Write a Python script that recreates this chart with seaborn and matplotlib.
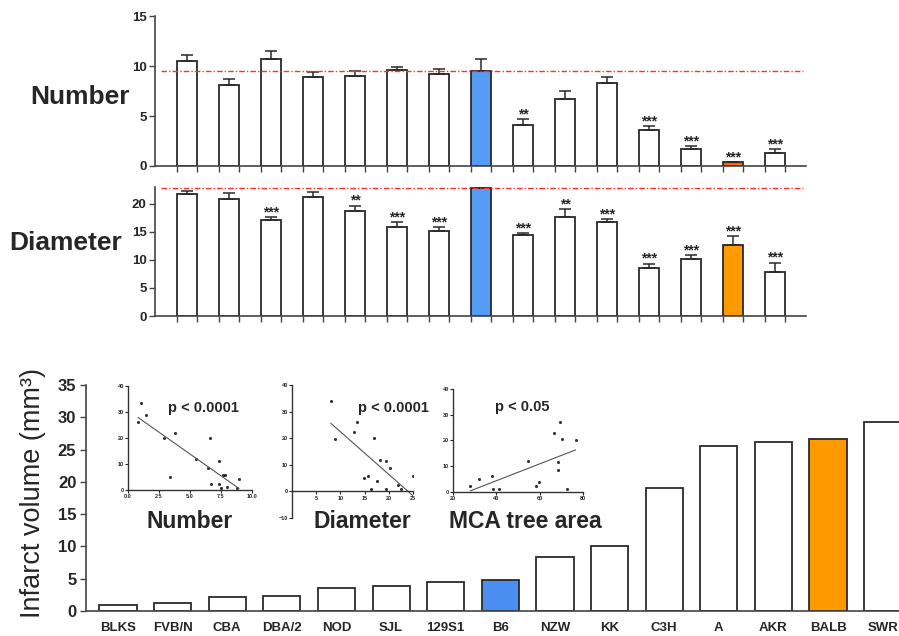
import numpy as np
import pandas as pd
import matplotlib
matplotlib.use('Agg')
import matplotlib.pyplot as plt
import seaborn as sns

sns.set_style('ticks')
plt.rcParams['font.family'] = ['Liberation Sans', 'DejaVu Sans']

### data
strains = ['BLKS', 'FVB/N', 'CBA', 'DBA/2', 'NOD', 'SJL', '129S1', 'B6',
           'NZW', 'KK', 'C3H', 'A', 'AKR', 'BALB', 'SWR']

# collateral number (mean, upper error)
number_mean = [10.5, 8.1, 10.7, 8.9, 9.0, 9.6, 9.2, 9.5, 4.1, 6.7, 8.3, 3.6, 1.7, 0.4, 1.3]
number_err = [0.6, 0.6, 0.8, 0.5, 0.5, 0.3, 0.5, 1.2, 0.6, 0.8, 0.6, 0.4, 0.3, 0.0, 0.4]
number_stars = ['', '', '', '', '', '', '', '', '**', '', '', '***', '***', '***', '***']

# collateral diameter (mean, upper error)
diam_mean = [21.7, 20.9, 17.1, 21.3, 18.7, 15.8, 15.2, 22.8, 14.4, 17.6, 16.8, 8.6, 10.1, 12.6, 7.9]
diam_err = [0.6, 1.0, 0.5, 0.8, 1.0, 0.9, 0.6, 0.2, 0.4, 1.5, 0.5, 0.7, 0.8, 1.6, 1.6]
diam_stars = ['', '', '***', '', '**', '***', '***', '', '***', '**', '***', '***', '***', '***', '***']

# infarct volume
infarct = [1.0, 1.2, 2.1, 2.3, 3.5, 3.9, 4.5, 4.75, 8.4, 10.0, 19.1, 25.6, 26.1, 26.6, 29.3]

# inset scatter data
num_x = [0.81, 1.08, 1.43, 2.89, 3.78, 3.38, 5.49, 6.41, 6.62, 6.68, 7.35, 7.35, 7.65, 7.81, 7.51, 7.97, 8.78, 8.95]
num_y = [26.3, 33.3, 28.8, 19.9, 22.1, 4.9, 11.8, 8.3, 19.9, 2.2, 11.0, 2.2, 5.8, 5.8, 0.6, 1.0, 0.6, 4.1]
dia_x = [8.0, 8.9, 13.4, 12.8, 17.0, 18.2, 19.5, 20.3, 14.9, 15.6, 17.6, 16.4, 19.5, 21.9, 22.6, 25.0]
dia_y = [33.9, 19.8, 26.1, 22.3, 20.2, 11.9, 11.4, 8.7, 4.9, 5.8, 4.0, 0.9, 0.9, 2.4, 0.9, 5.9]
mca_x = [28.0, 31.8, 38.0, 38.5, 41.1, 54.6, 58.2, 59.7, 66.6, 69.2, 70.3, 68.6, 68.6, 72.8, 76.6]
mca_y = [2.2, 5.0, 6.1, 1.0, 1.0, 12.0, 2.2, 3.9, 22.8, 27.1, 20.5, 11.5, 8.7, 1.0, 20.1]

df = pd.DataFrame({'strain': strains, 'number': number_mean, 'diameter': diam_mean,
                   'infarct': infarct})

edge = '#2a2a2a'
spine = '#444444'


def colors(b6, balb):
    c = {s: 'white' for s in strains}
    c['B6'] = b6
    c['BALB'] = balb
    return c


fig = plt.figure(figsize=(8.99, 6.36), dpi=100)


def top_panel(rect, col, err, stars, ylim, yticks, pal):
    ax = fig.add_axes(rect)
    sns.barplot(data=df, x='strain', y=col, hue='strain', palette=pal, legend=False,
                width=0.48, saturation=1, edgecolor=edge, linewidth=1.3, ax=ax)
    pos = np.arange(len(strains))
    ax.errorbar(pos, df[col], yerr=[np.zeros(len(err)), err], fmt='none',
                ecolor=edge, elinewidth=1.1, capsize=4, capthick=1.1)
    for i, s in enumerate(stars):
        if s:
            ax.annotate(s, (i, df[col][i] + err[i]), xytext=(0, -1.5),
                        textcoords='offset points', ha='center', va='bottom',
                        fontsize=10, fontweight='bold')
    ref = df[col][strains.index('B6')]
    ax.axhline(ref, xmin=0.01, xmax=0.995, color='#ff3030', lw=1.0, ls=(0, (4, 1.5, 1, 1.5)))
    ax.set_xlim(-0.762, 14.74)
    ax.set_ylim(*ylim)
    ax.set_yticks(yticks)
    edges = np.sort(np.concatenate([pos - 0.24, pos + 0.24]))
    ax.set_xticks(edges)
    ax.set_xticklabels([])
    ax.set_xlabel('')
    ax.set_ylabel('')
    sns.despine(ax=ax)
    for sp in ['left', 'bottom']:
        ax.spines[sp].set_color(spine)
        ax.spines[sp].set_linewidth(1.2)
    ax.tick_params(length=4, width=1, color=spine, labelsize=9.5, pad=2)
    for t in ax.get_yticklabels():
        t.set_fontweight('bold')
    ax.patch.set_alpha(0)
    return ax


top_panel([0.1724, 0.739, 0.7242, 0.2358], 'number', number_err, number_stars,
          (0, 15), [0, 5, 10, 15], colors('#559cf7', '#ff6a00'))
top_panel([0.1724, 0.5031, 0.7242, 0.2028], 'diameter', diam_err, diam_stars,
          (0, 23), [0, 5, 10, 15, 20], colors('#559cf7', '#ff9a00'))

fig.text(0.089, 0.8475, 'Number', fontsize=19, fontweight='bold', ha='center', va='center')
fig.text(0.0734, 0.618, 'Diameter', fontsize=19, fontweight='bold', ha='center', va='center')

### infarct volume panel
ax3 = fig.add_axes([0.0957, 0.0393, 0.9043, 0.3553])
sns.barplot(data=df, x='strain', y='infarct', hue='strain', palette=colors('#4a8ef2', '#ff9900'),
            legend=False, width=0.68, saturation=1, edgecolor=edge, linewidth=1.3, ax=ax3)
ax3.set_xlim(-0.586, 14.30)
ax3.set_ylim(0, 35)
ax3.set_yticks(range(0, 36, 5))
ax3.set_xlabel('')
ax3.set_ylabel('')
sns.despine(ax=ax3)
for sp in ['left', 'bottom']:
    ax3.spines[sp].set_color(spine)
    ax3.spines[sp].set_linewidth(1.2)
ax3.tick_params(axis='y', length=4, width=1, color=spine, labelsize=12, pad=3)
ax3.tick_params(axis='x', length=0, labelsize=9.5, pad=8)
for t in ax3.get_xticklabels() + ax3.get_yticklabels():
    t.set_fontweight('bold')
ax3.patch.set_alpha(0)
fig.text(0.0367, 0.225, 'Infarct volume (mm³)', fontsize=19.5, rotation=90,
         ha='center', va='center')


def inset(rect, x, y, xlim, ylim, xticks, yticks, ptxt, pxy, label, lxy):
    ax = fig.add_axes(rect)
    sns.regplot(x=np.array(x), y=np.array(y), ci=None, ax=ax,
                scatter_kws=dict(s=5, color='black', marker='s', linewidths=0),
                line_kws=dict(color='#555555', lw=0.8))
    ax.set_xlim(*xlim)
    ax.set_ylim(*ylim)
    ax.set_xticks(xticks)
    ax.set_yticks(yticks)
    sns.despine(ax=ax)
    ax.spines['bottom'].set_position(('data', 0))
    for sp in ['left', 'bottom']:
        ax.spines[sp].set_color('#333333')
        ax.spines[sp].set_linewidth(1.0)
    ax.tick_params(length=2, width=0.8, labelsize=4, pad=1)
    for t in ax.get_xticklabels() + ax.get_yticklabels():
        t.set_fontweight('bold')
    ax.patch.set_alpha(0)
    fig.text(pxy[0], pxy[1], ptxt, fontsize=10.5, fontweight='bold', ha='center', va='center')
    fig.text(lxy[0], lxy[1], label, fontsize=16.5, fontweight='bold', ha='center', va='center')


inset([0.1424, 0.2296, 0.138, 0.1635], num_x, num_y, (0, 10), (0, 40),
      [0, 2.5, 5, 7.5, 10], [0, 10, 20, 30, 40], 'p < 0.0001', (0.2258, 0.3585),
      'Number', (0.2113, 0.1808))
inset([0.3248, 0.1855, 0.1346, 0.2091], dia_x, dia_y, (0, 25), (-10, 40),
      [5, 10, 15, 20, 25], [-10, 0, 10, 20, 30, 40], 'p < 0.0001', (0.4372, 0.3585),
      'Diameter', (0.4027, 0.1808))
inset([0.5039, 0.2264, 0.1446, 0.162], mca_x, mca_y, (20, 80), (0, 40),
      [20, 40, 60, 80], [0, 10, 20, 30, 40], 'p < 0.05', (0.5806, 0.36),
      'MCA tree area', (0.584, 0.1808))

fig.savefig('out.png', dpi=100)
